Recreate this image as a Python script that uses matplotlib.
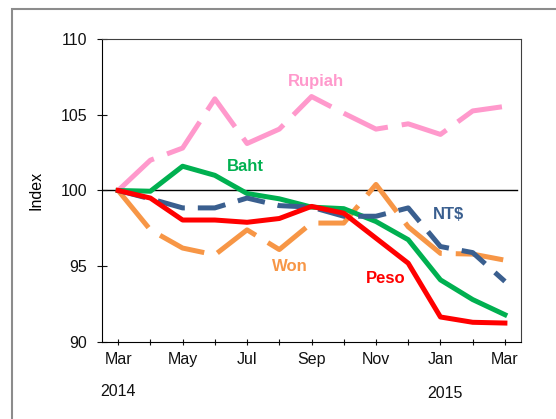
import matplotlib
matplotlib.use("Agg")
import matplotlib.pyplot as plt
from matplotlib.patches import Rectangle

plt.rcParams['font.family'] = ['Liberation Sans', 'DejaVu Sans']

# Monthly index, Mar 2014 = 100
months = ['Mar', 'Apr', 'May', 'Jun', 'Jul', 'Aug', 'Sep',
          'Oct', 'Nov', 'Dec', 'Jan', 'Feb', 'Mar']
rupiah = [100, 102.0, 102.8, 106.05, 103.1, 104.05, 106.2, 105.1, 104.05, 104.4, 103.7, 105.25, 105.55]
won = [100, 97.4, 96.2, 95.75, 97.4, 96.1, 97.85, 97.85, 100.4, 97.6, 95.85, 95.8, 95.4]
baht = [100, 99.95, 101.6, 101.0, 99.8, 99.45, 98.9, 98.8, 97.95, 96.75, 94.1, 92.8, 91.8]
ntd = [100, 99.45, 98.85, 98.85, 99.5, 99.0, 98.9, 98.3, 98.3, 98.85, 96.3, 95.9, 94.0]
peso = [100, 99.5, 98.05, 98.05, 97.9, 98.15, 98.95, 98.5, 96.85, 95.2, 91.65, 91.3, 91.25]
years = ['2014', '2015']

x = list(range(len(months)))

fig = plt.figure(figsize=(5.56, 4.19), dpi=100)
ax = fig.add_axes([0.1835, 0.1838, 0.7536, 0.7232])

# outer frame of the chart area
fig.patches.append(Rectangle((0.022, -0.5), 2, 0.9785 + 0.5, transform=fig.transFigure,
                             fill=False, edgecolor='#8c8c8c', linewidth=1.5))

ax.plot([-0.5, 12.37], [100, 100], color='black', lw=1, zorder=1.5)

lw = 3.6
l1, = ax.plot(x, rupiah, color='#FF99CC', lw=lw, dash_capstyle='butt')
l1.set_dashes([9.6, 2.8])
l2, = ax.plot(x, won, color='#F79646', lw=lw, dash_capstyle='butt')
l2.set_dashes([9.6, 2.8])
ax.plot(x, baht, color='#00B050', lw=lw)
l4, = ax.plot(x, ntd, color='#3A5F8F', lw=lw, dash_capstyle='butt')
l4.set_dashes([5.6, 2.6])
ax.plot(x, peso, color='#FF0000', lw=lw)

ax.text(6.13, 107.16, 'Rupiah', color='#FF99CC', fontsize=12, fontweight='bold', ha='center', va='center')
ax.text(3.95, 101.59, 'Baht', color='#00B050', fontsize=12, fontweight='bold', ha='center', va='center')
ax.text(10.26, 98.39, 'NT$', color='#3A5F8F', fontsize=12, fontweight='bold', ha='center', va='center')
ax.text(5.32, 95.0, 'Won', color='#F79646', fontsize=12, fontweight='bold', ha='center', va='center')
ax.text(8.29, 94.2, 'Peso', color='#FF0000', fontsize=12, fontweight='bold', ha='center', va='center')

ax.set_xlim(-0.5, 12.5)
ax.set_ylim(90, 110)
ax.set_yticks([90, 95, 100, 105, 110])
ax.set_xticks(x)
ax.set_xticklabels([m if i % 2 == 0 else '' for i, m in enumerate(months)])
ax.tick_params(axis='x', direction='inout', length=4.5, pad=5, labelsize=11.5, colors='#111111')
ax.tick_params(axis='y', direction='inout', length=7.7, pad=7, labelsize=11.5, colors='#111111')
ax.set_ylabel('Index', fontsize=11.5, labelpad=12)

for side in ['top', 'right']:
    ax.spines[side].set_color('#404040')

ax.annotate(years[0], xy=(0, 0), xycoords=('data', 'axes fraction'), xytext=(0, -35.5),
            textcoords='offset points', ha='center', va='center', fontsize=11.5, color='#111111')
ax.annotate(years[1], xy=(10.15, 0), xycoords=('data', 'axes fraction'), xytext=(0, -37),
            textcoords='offset points', ha='center', va='center', fontsize=11.5, color='#111111')

fig.savefig('out.png', dpi=100)
